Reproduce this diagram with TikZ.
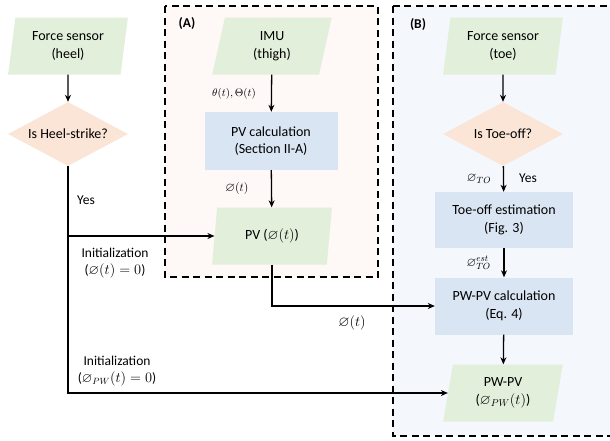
\documentclass[tikz,border=0pt]{standalone}
\usepackage{amssymb}
\usepackage{fontspec}
\setmainfont{Carlito}
\usetikzlibrary{shapes.geometric,arrows.meta}
\definecolor{ggreen}{RGB}{226,239,218}
\definecolor{gorange}{RGB}{251,229,214}
\definecolor{gblue}{RGB}{218,229,243}
\definecolor{bgA}{RGB}{254,248,247}
\definecolor{bgB}{RGB}{244,248,253}
\begin{document}
\begin{tikzpicture}[x=1pt,y=-1pt,
  para/.style={trapezium, trapezium left angle=80, trapezium right angle=100,
    trapezium stretches=true, fill=ggreen, minimum width=120pt, minimum height=57pt,
    inner sep=0pt, align=center, font=\fontsize{14}{17.5}\selectfont},
  dec/.style={diamond, fill=gorange, minimum width=120pt, minimum height=64pt,
    aspect=1.875, inner sep=0pt, align=center, font=\fontsize{14}{17.5}\selectfont},
  proc/.style={rectangle, fill=gblue, minimum width=133pt, minimum height=58pt,
    inner sep=0pt, align=center, font=\fontsize{14}{17.5}\selectfont},
  grp/.style={draw=black, line width=1.6pt, dash pattern=on 7pt off 4.5pt},
  conn/.style={draw=black, line width=1.3pt, -{Stealth[length=7pt,width=6pt]}},
  lbl/.style={font=\fontsize{13.5}{17}\selectfont, align=center, inner sep=0pt},
  mlbl/.style={font=\fontsize{12.5}{15}\selectfont, align=center, inner sep=0pt},
  grplbl/.style={font=\fontsize{13.5}{16}\selectfont\bfseries, inner sep=0pt}]
\useasboundingbox (0,0) rectangle (610,440);
% group backgrounds
\draw[grp, fill=bgA] (165,6) rectangle (378,277);
\draw[grp, fill=bgB] (393,6) rectangle (616,436);
\node[grplbl] (la) at (187,24) {(A)};
\node[grplbl] (lb) at (418,25) {(B)};
% left column
\node[para] (fh) at (68,46) {Force sensor\\(heel)};
\node[dec] (hs) at (68,134) {Is Heel-strike?};
% group A
\node[para] (imu) at (272,46) {IMU\\(thigh)};
\node[proc] (pvc) at (271,141) {PV calculation\\(Section II-A)};
\node[para] (pv) at (272,236) {PV ($\varnothing(t)$)};
% group B
\node[para] (ft) at (503,46) {Force sensor\\(toe)};
\node[dec] (to) at (503,134) {Is Toe-off?};
\node[proc, minimum width=138pt, minimum height=56pt] (toe) at (504,220) {Toe-off estimation\\(Fig. 3)};
\node[proc, minimum width=138pt, minimum height=57pt] (pwc) at (504,306) {PW-PV calculation\\(Eq. 4)};
\node[para] (pwpv) at (503,393) {PW-PV\\($\varnothing_{PW}(t)$)};
% connectors
\draw[conn] (fh) -- (hs);
\draw[conn] (hs.south) |- (pwpv.west);
\draw[conn] (hs.south |- pv.west) -- (pv.west);
\draw[conn] (imu) -- (pvc);
\draw[conn] (pvc) -- (pv);
\draw[conn] (pv.south) |- (pwc.west);
\draw[conn] (ft) -- (to);
\draw[conn] (to) -- (toe);
\draw[conn] (toe) -- (pwc);
\draw[conn] (pwc) -- (pwpv);
% labels
\node[lbl] (yes1) at (86,200) {Yes};
\node[lbl] (init1) at (115,263) {Initialization\\($\varnothing(t)=0$)};
\node[lbl] (init2) at (117,371) {Initialization\\($\varnothing_{PW}(t)=0$)};
\node[lbl, font=\fontsize{14.5}{16}\selectfont] (phi3) at (352,323) {$\varnothing(t)$};
\node[mlbl, font=\fontsize{11}{14}\selectfont] (th) at (234,94) {$\theta(t),\Theta(t)$};
\node[mlbl] (phi1) at (237,188) {$\varnothing(t)$};
\node[mlbl] (phito) at (479,179) {$\varnothing_{TO}$};
\node[lbl] (yes2) at (528,178) {Yes};
\node[mlbl, anchor=east] (phiest) at (491,263) {$\varnothing^{est}_{TO}$};
\end{tikzpicture}
\end{document}
